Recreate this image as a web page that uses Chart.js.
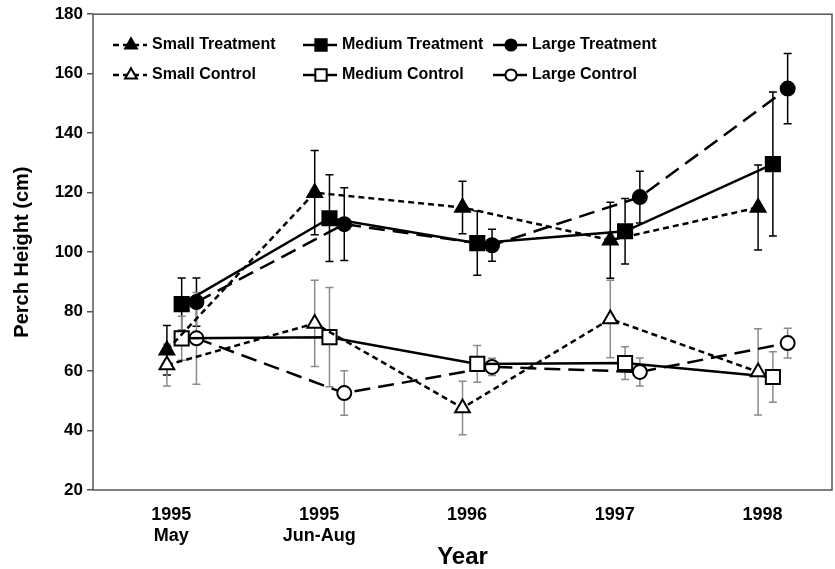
<!DOCTYPE html>
<html>
<head>
<meta charset="utf-8">
<title>Perch Height</title>
<script src="https://cdn.jsdelivr.net/npm/chart.js@4.4.0/dist/chart.umd.min.js"></script>
<style>
  html, body { margin: 0; padding: 0; background: #fff; }
</style>
</head>
<body>
<canvas id="chart" width="835" height="569"></canvas>
<script>
'use strict';

//Survey periods along the x axis
const categories = [['1995', 'May'], ['1995', 'Jun-Aug'], '1996', '1997', '1998'];

//Mean perch height (cm) and standard error, per group
const smallTreatment = [67, 120, 115, 104, 115];
const smallTreatmentSE = [8.3, 14.2, 8.8, 12.8, 14.3];
const mediumTreatment = [82.5, 111.4, 103, 107, 129.6];
const mediumTreatmentSE = [8.8, 14.6, 10.8, 11, 24.2];
const largeTreatment = [83.2, 109.4, 102.3, 118.5, 155];
const largeTreatmentSE = [8.1, 12.2, 5.4, 8.7, 11.8];

const smallControl = [62, 76, 47.6, 77.5, 59.7];
const smallControlSE = [7, 14.5, 9, 13, 14.5];
const mediumControl = [71, 71.4, 62.4, 62.7, 58];
const mediumControlSE = [7.4, 16.7, 6.2, 5.5, 8.5];
const largeControl = [71, 52.6, 61.4, 59.7, 69.4];
const largeControlSE = [15.4, 7.5, 2.9, 4.7, 5];

const FONT = "'Liberation Sans', Arial, sans-serif";

//Build one series; groups are nudged sideways so bars don't overlap
function makeSeries(label, values, se, offset, shape, filled, dash, radius) {
   return {
      label: label,
      data: values.map((v, i) => ({ x: i + offset, y: v })),
      se: se,
      filled: filled,
      borderColor: '#000',
      borderWidth: 2.5,
      borderDash: dash,
      pointStyle: shape,
      pointRadius: radius,
      pointBorderWidth: 2,
      pointBackgroundColor: filled ? '#000' : '#fff',
      pointBorderColor: '#000',
      fill: false,
      tension: 0
   };
}

const SHORT = [6, 4];
const LONG = [16, 8];

const datasets = [
   makeSeries('Small Treatment', smallTreatment, smallTreatmentSE, 0, 'triangle', true, SHORT, 8.5),
   makeSeries('Medium Treatment', mediumTreatment, mediumTreatmentSE, 0.1, 'rect', true, [], 10),
   makeSeries('Large Treatment', largeTreatment, largeTreatmentSE, 0.2, 'circle', true, LONG, 7),
   makeSeries('Small Control', smallControl, smallControlSE, 0, 'triangle', false, SHORT, 8.5),
   makeSeries('Medium Control', mediumControl, mediumControlSE, 0.1, 'rect', false, [], 10),
   makeSeries('Large Control', largeControl, largeControlSE, 0.2, 'circle', false, LONG, 7)
];

//Marker shapes used by the in-plot legend
function drawMarker(ctx, shape, x, y, r, filled) {
   ctx.save();
   ctx.beginPath();
   if (shape === 'circle') {
      ctx.arc(x, y, r, 0, Math.PI * 2);
   } else if (shape === 'rect') {
      const h = r * Math.SQRT1_2;
      ctx.rect(x - h, y - h, h * 2, h * 2);
   } else {
      let a = 0;
      ctx.moveTo(x + Math.sin(a) * r, y - Math.cos(a) * r);
      a += Math.PI * 2 / 3;
      ctx.lineTo(x + Math.sin(a) * r, y - Math.cos(a) * r);
      a += Math.PI * 2 / 3;
      ctx.lineTo(x + Math.sin(a) * r, y - Math.cos(a) * r);
      ctx.closePath();
   }
   ctx.fillStyle = filled ? '#000' : '#fff';
   ctx.fill();
   ctx.lineWidth = 2;
   ctx.strokeStyle = '#000';
   ctx.stroke();
   ctx.restore();
}

//Standard error whiskers, black for treatment and grey for control
const errorBars = {
   id: 'errorBars',
   beforeDatasetsDraw(chart) {
      const ctx = chart.ctx;
      const xs = chart.scales.x;
      const ys = chart.scales.y;
      ctx.save();
      chart.data.datasets.forEach(ds => {
         ctx.strokeStyle = ds.filled ? '#000' : '#8a8a8a';
         ctx.lineWidth = 1.5;
         ds.data.forEach((p, i) => {
            const x = xs.getPixelForValue(p.x);
            const top = ys.getPixelForValue(p.y + ds.se[i]);
            const bot = ys.getPixelForValue(p.y - ds.se[i]);
            ctx.beginPath();
            ctx.moveTo(x, top);
            ctx.lineTo(x, bot);
            ctx.moveTo(x - 4, top);
            ctx.lineTo(x + 4, top);
            ctx.moveTo(x - 4, bot);
            ctx.lineTo(x + 4, bot);
            ctx.stroke();
         });
      });
      ctx.restore();
   }
};

//Box round the plot area
const frame = {
   id: 'frame',
   afterDraw(chart) {
      const a = chart.chartArea;
      const ctx = chart.ctx;
      ctx.save();
      ctx.strokeStyle = '#555';
      ctx.lineWidth = 1.5;
      ctx.strokeRect(a.left, a.top, a.right - a.left, a.bottom - a.top);
      ctx.restore();
   }
};

//Legend drawn inside the plot, three columns by two rows
const plotLegend = {
   id: 'plotLegend',
   afterDraw(chart) {
      const ctx = chart.ctx;
      const cols = [113, 303, 493];
      const rows = [45, 75];
      ctx.save();
      chart.data.datasets.forEach((ds, i) => {
         const x0 = cols[i % 3];
         const y = rows[Math.floor(i / 3)];
         ctx.beginPath();
         ctx.setLineDash(ds.borderDash);
         ctx.lineWidth = 2.5;
         ctx.strokeStyle = '#000';
         ctx.moveTo(x0, y);
         ctx.lineTo(x0 + 34, y);
         ctx.stroke();
         ctx.setLineDash([]);
         drawMarker(ctx, ds.pointStyle, x0 + 18, y, ds.pointRadius * 0.8, ds.filled);
         ctx.fillStyle = '#000';
         ctx.font = 'bold 16px ' + FONT;
         ctx.textBaseline = 'middle';
         ctx.textAlign = 'left';
         ctx.fillText(ds.label, x0 + 39, y);
      });
      ctx.restore();
   }
};

const chart = new Chart(document.getElementById('chart'), {
   type: 'line',
   data: { datasets: datasets },
   options: {
      responsive: false,
      animation: false,
      devicePixelRatio: 1,
      layout: { autoPadding: false, padding: { top: 14, right: 3, left: 0, bottom: 0 } },
      plugins: {
         legend: { display: false },
         tooltip: { enabled: false }
      },
      scales: {
         x: {
            type: 'linear',
            min: -0.5,
            max: 4.5,
            afterBuildTicks: scale => {
               scale.ticks = categories.map((c, i) => ({ value: i + 0.03 }));
            },
            afterFit: scale => {
               scale.height = 79;
               scale.paddingLeft = 0;
               scale.paddingRight = 0;
            },
            grid: { display: false },
            border: { display: false },
            ticks: {
               callback: (v, i) => categories[i],
               font: { family: FONT, size: 18, weight: 'bold' },
               color: '#000',
               padding: 6,
               maxRotation: 0,
               autoSkip: false
            },
            title: {
               display: true,
               text: 'Year',
               color: '#000',
               font: { family: FONT, size: 24, weight: 'bold' },
               padding: { top: 0, bottom: -3 }
            }
         },
         y: {
            min: 20,
            max: 180,
            afterFit: scale => { scale.width = 93; },
            grid: { drawOnChartArea: false, tickLength: 6, color: '#555', lineWidth: 1.5 },
            border: { display: false },
            ticks: {
               stepSize: 20,
               font: { family: FONT, size: 17, weight: 'bold' },
               color: '#000',
               padding: 4
            },
            title: {
               display: true,
               text: 'Perch Height (cm)',
               color: '#000',
               font: { family: FONT, size: 20, weight: 'bold' },
               padding: { top: 10, bottom: 0 }
            }
         }
      }
   },
   plugins: [errorBars, frame, plotLegend]
});
</script>
</body>
</html>
